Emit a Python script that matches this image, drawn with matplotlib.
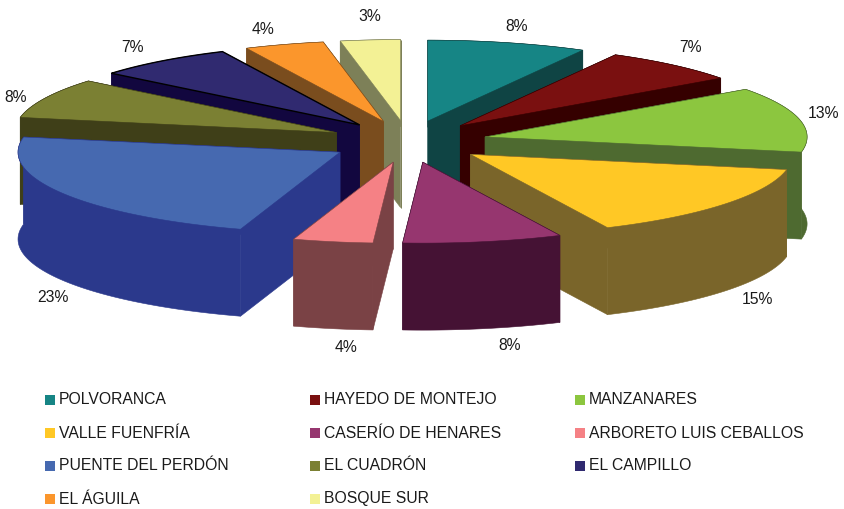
import numpy as np
import matplotlib
matplotlib.use('Agg')
import matplotlib.pyplot as plt
from matplotlib.patches import Polygon, Rectangle

plt.rcParams['font.family'] = ['Liberation Sans', 'DejaVu Sans']

names = ['POLVORANCA', 'HAYEDO DE MONTEJO', 'MANZANARES', 'VALLE FUENFRÍA',
         'CASERÍO DE HENARES', 'ARBORETO LUIS CEBALLOS', 'PUENTE DEL PERDÓN',
         'EL CUADRÓN', 'EL CAMPILLO', 'EL ÁGUILA', 'BOSQUE SUR']
values = [8, 7, 13, 15, 8, 4, 23, 8, 7, 4, 3]
top_colors = ['#168585', '#7a1010', '#8cc63f', '#ffc825', '#96366f', '#f58185',
              '#4669b0', '#7b8033', '#302a70', '#fb962c', '#f3f195']
wall_colors = ['#0f4444', '#350000', '#4e6a30', '#7a652a', '#451234', '#7a4245',
               '#2b398c', '#3f3f18', '#12073f', '#7a4d1e', '#7d8058']
label_pos = [(517, 26), (691, 47), (824, 113), (757, 300), (510, 345), (346, 347),
             (53, 297), (16, 97), (133, 47), (263, 29), (370, 16)]

# projection of the tilted pie, in pixels
cx, cy = 408, 141.5
rx, ry = 322, 81
ex, ey = 79, 21
depth = 87

fig = plt.figure(figsize=(8.45, 5.09), dpi=100)
ax = fig.add_axes([0, 0, 1, 1])
ax.set_xlim(0, 845)
ax.set_ylim(509, 0)
ax.axis('off')

fractions = np.array(values) / sum(values)
ends = np.cumsum(fractions) * 2 * np.pi
starts = ends - fractions * 2 * np.pi
mids = (starts + ends) / 2


def draw_slice(i):
    tip = np.array([cx + ex * np.sin(mids[i]), cy - ey * np.cos(mids[i])])
    a = np.linspace(starts[i], ends[i], 60)
    arc = np.column_stack([tip[0] + rx * np.sin(a), tip[1] - ry * np.cos(a)])
    down = np.array([0, depth])
    edge = 'black' if names[i] == 'EL CAMPILLO' else wall_colors[i]
    lw = 1.0 if names[i] == 'EL CAMPILLO' else 0.4

    # cut faces first, then the rim, then the top
    for p in (arc[0], arc[-1]):
        ax.add_patch(Polygon([tip, p, p + down, tip + down], fc=wall_colors[i],
                             ec=wall_colors[i], lw=0.4))
    ax.add_patch(Polygon(np.vstack([arc, (arc + down)[::-1]]), fc=wall_colors[i],
                         ec=wall_colors[i], lw=0.4))
    ax.add_patch(Polygon(np.vstack([tip, arc]), fc=top_colors[i], ec=edge, lw=lw))


# back slices first so the front ones cover them
for i in np.argsort(-np.cos(mids)):
    draw_slice(i)

for v, (x, y) in zip(values, label_pos):
    ax.text(x, y, f'{v}%', ha='center', va='center', fontsize=11.3, color='#1a1a1a')

col_x = [45, 310, 575]
row_y = [400, 433, 466, 499]
for i, name in enumerate(names):
    x = col_x[i % 3]
    y = row_y[i // 3]
    ax.add_patch(Rectangle((x, y - 5), 10, 10, fc=top_colors[i], ec='none'))
    ax.text(x + 14, y, name, ha='left', va='center', fontsize=11.3, color='#1a1a1a')

plt.savefig('out.png', dpi=100)
